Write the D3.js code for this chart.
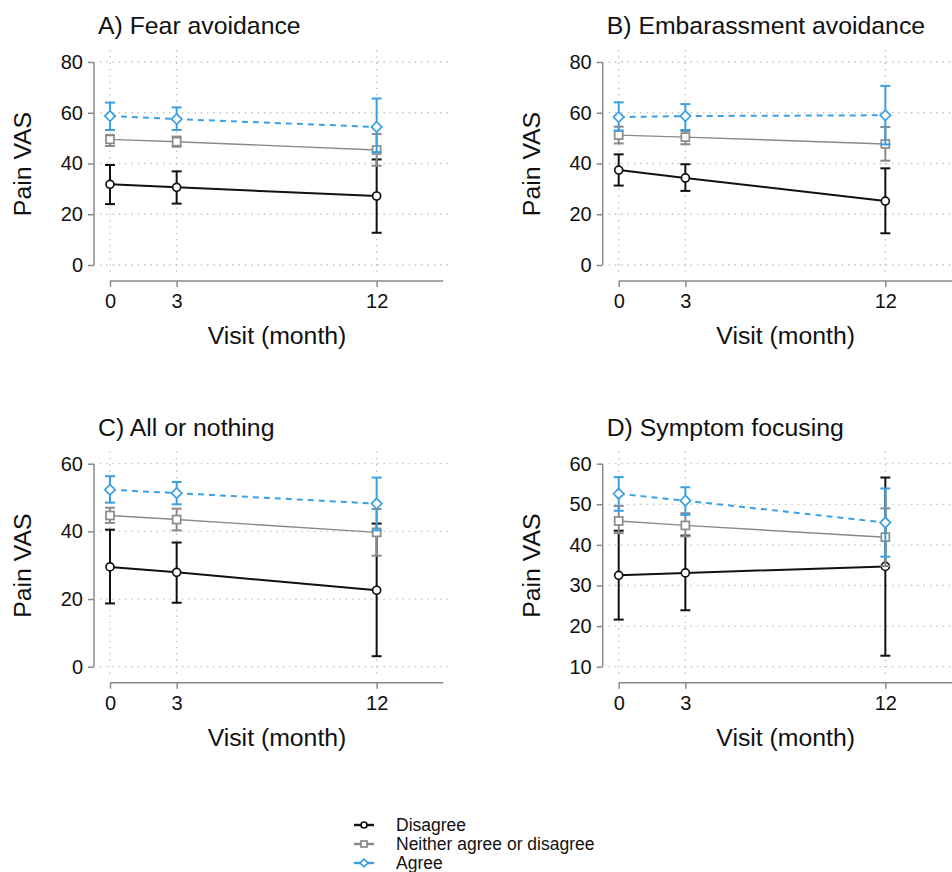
<!DOCTYPE html>
<html>
<head>
<meta charset="utf-8">
<script src="https://cdn.jsdelivr.net/npm/d3@7"></script>
<style>
  body { margin: 0; background: #fff; }
  svg { display: block; font-family: "Liberation Sans", Arial, sans-serif; }
</style>
</head>
<body>
<div id="chart"></div>
<script>
const visits = [0, 3, 12];
const groups = ["Disagree", "Neither agree or disagree", "Agree"];
const panelTitles = ["A) Fear avoidance", "B) Embarassment avoidance", "C) All or nothing", "D) Symptom focusing"];
const yDomains = [[0, 80], [0, 80], [0, 60], [10, 60]];
const yTicks = [[0, 20, 40, 60, 80], [0, 20, 40, 60, 80], [0, 20, 40, 60], [10, 20, 30, 40, 50, 60]];

// rows: Disagree, Neither, Agree; columns: visit 0, 3, 12
const fearMean = [[31.8, 30.6, 27.2], [49.5, 48.6, 45.3], [58.7, 57.5, 54.4]];
const fearLow  = [[24.0, 24.2, 12.7], [46.9, 46.6, 39.1], [53.2, 53.2, 44.5]];
const fearHigh = [[39.4, 36.9, 41.6], [51.2, 50.6, 51.6], [64.0, 62.1, 65.6]];

const embMean = [[37.4, 34.3, 25.2], [51.2, 50.4, 47.7], [58.3, 58.7, 59.0]];
const embLow  = [[31.3, 29.2, 12.5], [47.9, 47.6, 41.1], [53.0, 53.2, 47.5]];
const embHigh = [[43.6, 39.7, 38.1], [54.5, 52.8, 54.4], [64.1, 63.4, 70.6]];

const allMean = [[29.5, 27.9, 22.6], [44.7, 43.5, 39.7], [52.3, 51.3, 48.2]];
const allLow  = [[18.7, 18.9, 3.1], [42.5, 40.3, 32.8], [48.5, 48.0, 40.3]];
const allHigh = [[40.5, 36.7, 42.3], [47.0, 46.7, 46.6], [56.3, 54.6, 55.9]];

const symMean = [[32.5, 33.1, 34.7], [45.9, 44.8, 41.9], [52.6, 50.9, 45.5]];
const symLow  = [[21.6, 23.9, 12.7], [42.9, 42.1, 34.8], [48.4, 47.4, 37.1]];
const symHigh = [[43.5, 42.3, 56.6], [49.6, 47.8, 49.0], [56.7, 54.2, 53.9]];

const panelMeans = [fearMean, embMean, allMean, symMean];
const panelLows = [fearLow, embLow, allLow, symLow];
const panelHighs = [fearHigh, embHigh, allHigh, symHigh];

const colors = ["#111111", "#8a8a8a", "#3ba0e2"];
const lineWidths = [2, 1.4, 2];
const dashes = [null, null, "6,5"];
const shapes = ["circle", "square", "diamond"];

const W = 952, H = 872;
const svg = d3.select("#chart").append("svg")
    .attr("width", W)
    .attr("height", H);

const gridColor = "#bdbdbd";

function drawMarker(g, shape, x, y, color, size) {
    if (shape === "circle") {
        g.append("circle").attr("cx", x).attr("cy", y).attr("r", size * 0.5)
            .attr("fill", "#fff").attr("stroke", color).attr("stroke-width", 1.7);
    } else if (shape === "square") {
        g.append("rect").attr("x", x - size * 0.5).attr("y", y - size * 0.5)
            .attr("width", size).attr("height", size)
            .attr("fill", "#fff").attr("stroke", color).attr("stroke-width", 1.7);
    } else {
        const s = size * 0.65;
        g.append("path")
            .attr("d", `M${x},${y - s}L${x + s},${y}L${x},${y + s}L${x - s},${y}Z`)
            .attr("fill", "#fff").attr("stroke", color).attr("stroke-width", 1.7);
    }
}

function drawPanel(i) {
    const dx = (i % 2) * 508.7;
    const dy = Math.floor(i / 2) * 401.7;
    const g = svg.append("g").attr("transform", `translate(${dx},${dy})`);

    const x = d3.scaleLinear().domain([0, 15]).range([110, 443.3]);
    const y = d3.scaleLinear().domain(yDomains[i]).range([265, 62]);

    // grid
    g.selectAll(".vgrid").data(visits).enter().append("line")
        .attr("x1", d => x(d)).attr("x2", d => x(d))
        .attr("y1", 50).attr("y2", 275)
        .attr("stroke", gridColor).attr("stroke-width", 1.3)
        .attr("stroke-dasharray", "1.3,5");
    g.selectAll(".hgrid").data(yTicks[i]).enter().append("line")
        .attr("x1", 100).attr("x2", 453)
        .attr("y1", d => y(d)).attr("y2", d => y(d))
        .attr("stroke", gridColor).attr("stroke-width", 1.3)
        .attr("stroke-dasharray", "1.3,5");

    // y axis
    const yAxis = g.append("g").attr("transform", "translate(94,0)")
        .call(d3.axisLeft(y).tickValues(yTicks[i]).tickSize(6).tickPadding(5).tickSizeOuter(0));
    yAxis.select(".domain").remove();
    yAxis.append("line").attr("x1", 0).attr("x2", 0)
        .attr("y1", y(yDomains[i][1])).attr("y2", y(yDomains[i][0]))
        .attr("stroke", "#8a8a8a").attr("stroke-width", 1.5);
    yAxis.selectAll(".tick line").attr("stroke", "#8a8a8a").attr("stroke-width", 1.5);
    yAxis.selectAll(".tick text").attr("font-size", 20).attr("fill", "#111")
        .attr("font-family", "Liberation Sans, Arial, sans-serif");

    // x axis
    const xAxis = g.append("g").attr("transform", "translate(0,281)")
        .call(d3.axisBottom(x).tickValues(visits).tickSize(6).tickPadding(7).tickSizeOuter(0));
    xAxis.select(".domain").remove();
    xAxis.append("line").attr("x1", x(0)).attr("x2", x(15)).attr("y1", 0).attr("y2", 0)
        .attr("stroke", "#8a8a8a").attr("stroke-width", 1.5);
    xAxis.selectAll(".tick line").attr("stroke", "#8a8a8a").attr("stroke-width", 1.5);
    xAxis.selectAll(".tick text").attr("font-size", 20).attr("fill", "#111")
        .attr("font-family", "Liberation Sans, Arial, sans-serif");

    // titles
    g.append("text").attr("x", 98).attr("y", 34)
        .attr("font-size", 24.8).attr("fill", "#111").text(panelTitles[i]);
    g.append("text").attr("x", 277).attr("y", 344)
        .attr("text-anchor", "middle").attr("font-size", 24.8).attr("fill", "#111")
        .text("Visit (month)");
    g.append("text").attr("transform", `translate(31,164) rotate(-90)`)
        .attr("text-anchor", "middle").attr("font-size", 24.8).attr("fill", "#111")
        .text("Pain VAS");

    const line = d3.line().x(d => x(d.v)).y(d => y(d.m));

    groups.forEach((grp, k) => {
        const pts = visits.map((v, j) => ({
            v, m: panelMeans[i][k][j], lo: panelLows[i][k][j], hi: panelHighs[i][k][j]
        }));
        const sg = g.append("g");
        // error bars
        pts.forEach(p => {
            sg.append("line").attr("x1", x(p.v)).attr("x2", x(p.v))
                .attr("y1", y(p.lo)).attr("y2", y(p.hi))
                .attr("stroke", colors[k]).attr("stroke-width", 2);
            [p.lo, p.hi].forEach(e => {
                sg.append("line").attr("x1", x(p.v) - 5).attr("x2", x(p.v) + 5)
                    .attr("y1", y(e)).attr("y2", y(e))
                    .attr("stroke", colors[k]).attr("stroke-width", 2);
            });
        });
        sg.append("path").datum(pts).attr("d", line)
            .attr("fill", "none").attr("stroke", colors[k])
            .attr("stroke-width", lineWidths[k])
            .attr("stroke-dasharray", dashes[k]);
        pts.forEach(p => drawMarker(sg, shapes[k], x(p.v), y(p.m), colors[k], 8));
    });
}

[0, 1, 2, 3].forEach(drawPanel);

// legend
const legend = svg.append("g");
const legendY = d3.scalePoint().domain(groups).range([825, 863]);
groups.forEach((grp, k) => {
    const ly = legendY(grp);
    legend.append("line").attr("x1", 354).attr("x2", 374).attr("y1", ly).attr("y2", ly)
        .attr("stroke", colors[k]).attr("stroke-width", 2.4);
    drawMarker(legend, shapes[k], 364, ly, colors[k], 6);
    legend.append("text").attr("x", 396).attr("y", ly + 6)
        .attr("font-size", 17.5).attr("fill", "#111")
        .text(grp);
});
</script>
</body>
</html>
